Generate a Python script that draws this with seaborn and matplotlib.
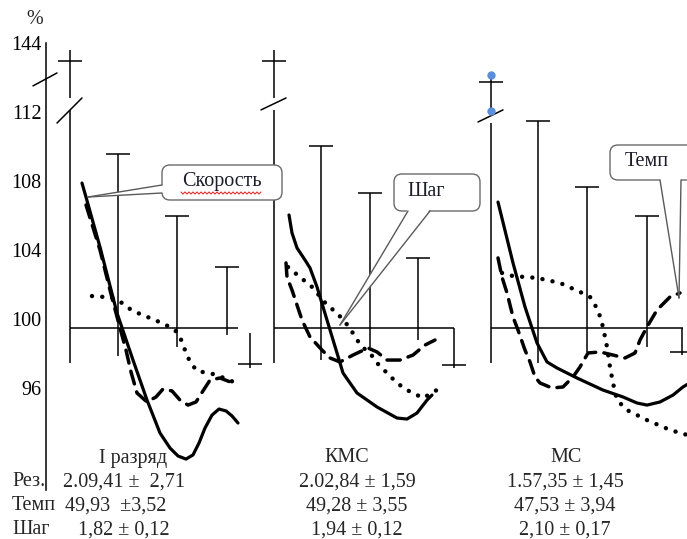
import numpy as np
import pandas as pd
import seaborn as sns
import matplotlib.pyplot as plt
from matplotlib.patches import FancyBboxPatch, Polygon
from matplotlib.transforms import Affine2D
from matplotlib.ticker import NullLocator

# ---------------- data ----------------
levels = ["I разряд", "КМС", "МС"]
series_names = ["Скорость", "Темп", "Шаг"]

# speed (solid), distance along each panel vs %
speed_x = [[12, 16, 30, 47, 63, 77, 90, 100, 108, 116, 123, 129, 135, 142, 149, 156, 162, 168],
           [15, 18, 23, 31, 36, 43, 53, 63, 69, 83, 103, 123, 133, 143, 153, 158],
           [7, 22, 34, 46, 56, 66, 86, 112, 132, 146, 156, 169, 182, 192, 196]]
speed_y = [[107.88, 107.07, 104.17, 100.35, 97.62, 95.30, 93.39, 92.52, 92.06, 91.88, 92.12,
            92.81, 93.68, 94.43, 94.78, 94.67, 94.38, 93.97],
           [106.03, 104.99, 104.12, 103.42, 102.96, 101.86, 99.94, 98.03, 96.87, 95.71, 94.90,
            94.26, 94.20, 94.55, 95.30, 95.59],
           [106.78, 103.25, 100.70, 98.61, 97.51, 97.16, 96.58, 95.88, 95.48, 95.13, 95.01,
            95.19, 95.59, 96.06, 96.2]]

# tempo (dashed)
tempo_x = [[16, 30, 42, 50, 56, 61, 67, 77, 86, 93, 102, 110, 118, 126, 133, 140, 150, 163],
           [12, 13, 18, 28, 36, 48, 56, 66, 79, 94, 103, 113, 126, 139, 151, 161],
           [7, 11, 16, 22, 27, 34, 39, 44, 49, 61, 72, 82, 89, 97, 109, 122, 134, 144, 149,
            156, 166, 179, 189]]
tempo_y = [[106.61, 104.0, 101.22, 99.48, 98.20, 96.93, 95.71, 95.19, 95.48, 95.94, 95.83,
            95.30, 95.01, 95.19, 95.83, 96.46, 96.58, 96.29],
           [103.25, 102.43, 101.68, 99.94, 98.96, 98.20, 97.74, 97.51, 97.91, 98.32, 98.09,
            97.62, 97.62, 97.91, 98.49, 98.78],
           [103.54, 102.43, 101.51, 100.12, 99.36, 98.20, 97.51, 96.64, 96.29, 96.0, 96.06,
            96.64, 97.22, 98.03, 98.09, 97.91, 97.74, 98.03, 98.78, 99.54, 100.52, 101.28, 101.51]]

# step (dotted)
step_x = [[22, 34, 43, 52, 60, 70, 85, 96, 105, 110, 115, 120, 127, 143, 157, 168],
          [14, 26, 38, 53, 63, 76, 81, 88, 96, 103, 113, 123, 133, 149, 158, 166],
          [11, 22, 46, 69, 89, 99, 107, 112, 116, 119, 122, 126, 136, 156, 179, 196]]
step_y = [[101.33, 101.28, 101.22, 100.93, 100.58, 100.29, 99.94, 99.65, 99.36, 98.96, 98.20,
           97.51, 96.99, 96.81, 96.52, 96.23],
          [103.01, 102.43, 101.86, 100.81, 100.35, 99.48, 98.96, 98.38, 98.03, 97.45, 96.87,
           96.29, 95.88, 95.42, 95.71, 96.0],
          [102.67, 102.49, 102.38, 102.09, 101.57, 101.28, 100.52, 99.54, 98.38, 97.22, 96.29,
           95.30, 94.72, 94.14, 93.57, 93.28]]

# variability bars (upward from the base line)
bar_x = [[0, 48, 107, 157], [0, 47, 96, 144], [0, 47, 96, 156]]
bar_top = [[135.7, 109.57, 105.97, 103.01], [135.7, 110.03, 107.30, 103.54], [125.9, 111.48, 107.65, 105.97]]
bar_low = [[97.45, 97.86, 98.38, 99.07], [97.45, 97.62, 98.38, 98.78], [97.45, 97.45, 98.09, 98.38]]
# first (broken) bar: line top, upper piece end, lower piece start
tall_top = [140.7, 140.7, 129.1]
tall_gap = [(118.5, 113.0), (118.5, 113.0), (112.46, 111.36)]
slash_v = [(111.36, 118.5), (112.97, 118.5), (111.42, 112.97)]
# downward bar at the end of each panel
down_x = [180, 180, 191]
down_top = [99.19, 99.48, 99.48]
down_low = [97.16, 97.16, 97.91]
down_cap = [97.39, 97.33, 98.09]
base_len = [168, 180, 192]
base_level = 99.48

y_ticks = [96, 100, 104, 108, 112, 144]

result_txt = ["2.09,41 ±  2,71", "2.02,84 ± 1,59", "1.57,35 ± 1,45"]
tempo_txt = ["49,93  ±3,52", "49,28 ± 3,55", "47,53 ± 3,94"]
step_txt = ["1,82 ± 0,12", "1,94 ± 0,12", "2,10 ± 0,17"]

# ---------------- layout ----------------
W, H = 687, 539
panel_x0 = [70, 274, 491]
CAP = 12

sns.set_style("white")
plt.rcParams['font.family'] = ['Liberation Serif', 'DejaVu Serif']
FS = 14.5

fig = plt.figure(figsize=(W / 100, H / 100), dpi=100)
ax = fig.add_axes([0, 0, 1, 1])
ax.set_facecolor("white")


def fwd(v):
    v = np.asarray(v, float)
    return np.where(v <= 112, v, 112 + (v - 112) / 8)


def inv(t):
    t = np.asarray(t, float)
    return np.where(t <= 112, t, 112 + (t - 112) * 8)


ax.set_yscale('function', functions=(fwd, inv))
ax.set_xlim(0, W)
ax.set_ylim(87.2464, 163.94)

# curves through seaborn, one call per indicator
styles = {
    "Скорость": dict(linestyle="-", lw=2.3),
    "Темп": dict(linestyle=(0, (3.8, 2.4)), lw=2.5),
    "Шаг": dict(linestyle=(0, (0.01, 2.3)), lw=3.2),
}
for name, xs, ys in zip(series_names, [speed_x, tempo_x, step_x], [speed_y, tempo_y, step_y]):
    rows = []
    for p in range(3):
        for x, y in zip(xs[p], ys[p]):
            rows.append({"panel": levels[p], "x": panel_x0[p] + x, "value": y})
    df = pd.DataFrame(rows)
    sns.lineplot(data=df, x="x", y="value", units="panel", estimator=None, sort=False,
                 color="black", legend=False, ax=ax, dash_capstyle="round",
                 solid_capstyle="round", solid_joinstyle="round", zorder=3, **styles[name])

lw = 1.1
for p in range(3):
    x0 = panel_x0[p]
    ax.hlines(base_level, x0, x0 + base_len[p], color="black", lw=lw)
    for i, (bx, top, low) in enumerate(zip(bar_x[p], bar_top[p], bar_low[p])):
        xx = x0 + bx
        if i == 0:
            ax.vlines(xx, tall_gap[p][0], tall_top[p], color="black", lw=lw)
            ax.vlines(xx, low, tall_gap[p][1], color="black", lw=lw)
            ax.plot([xx - 13, xx + 12], slash_v[p], color="black", lw=lw)
        else:
            ax.vlines(xx, low, top, color="black", lw=lw)
        ax.hlines(top, xx - CAP, xx + CAP, color="black", lw=lw)
    dx = x0 + down_x[p]
    ax.vlines(dx, down_low[p], down_top[p], color="black", lw=lw)
    ax.hlines(down_cap[p], dx - CAP, dx + CAP, color="black", lw=lw)

# selection handles on the third panel's first bar
ax.scatter([panel_x0[2], panel_x0[2]], [tall_top[2], tall_gap[2][0]], s=36,
           color="#5b8fd9", zorder=4, linewidths=0)

# main axis
for s in ["top", "right", "bottom"]:
    ax.spines[s].set_visible(False)
ax.spines["left"].set_position(("data", 46))
ax.spines["left"].set_bounds(90.09, 144)
ax.spines["left"].set_color("black")
ax.spines["left"].set_linewidth(lw)
ax.plot([33, 57], [124.1, 130.1], color="black", lw=lw)
ax.set_yticks(y_ticks)
ax.set_yticklabels([str(t) for t in y_ticks])
ax.yaxis.set_minor_locator(NullLocator())
ax.tick_params(axis="y", length=0, pad=3, labelsize=FS, labelcolor="black")
ax.set_xticks([])
ax.set_xlabel("")
ax.set_ylabel("")

# callouts (pixel space)
pix = Affine2D().scale(1, -1).translate(0, H)
callouts = [
    ("Скорость", (162, 165, 120, 35), [(162, 185), (162, 193)], (88, 197), 222),
    ("Шаг", (394, 174, 86, 37), [(408, 211), (430, 211)], (340, 325), 426),
    ("Темп", (610, 145, 95, 35), [(660, 180), (681, 180)], (679, 298), 647),
]
for label, (bx, by, bw, bh), base, tip, tx in callouts:
    box = FancyBboxPatch((bx, by), bw, bh, boxstyle="round,pad=0,rounding_size=8",
                         fc="white", ec="#6a6a6a", lw=1.0, transform=pix, zorder=5)
    ax.add_patch(box)
    if base[0][0] == base[1][0]:
        inner = [(base[0][0] + 2, base[0][1]), (base[1][0] + 2, base[1][1])]
    else:
        inner = [(base[0][0], base[0][1] - 2), (base[1][0], base[1][1] - 2)]
    ax.add_patch(Polygon(inner + [tip], closed=True, fc="white", ec="none",
                         transform=pix, zorder=6))
    for b in base:
        ax.plot([b[0], tip[0]], [b[1], tip[1]], color="#5a5a5a", lw=1.0,
                transform=pix, zorder=7)
    ax.text(tx, by + bh / 2 - 1, label, ha="center", va="center", fontsize=FS,
            color="#1c1c2a", transform=pix, zorder=8)

# spell-check wave under "Скорость"
wx = np.arange(181, 263, 2)
wy = 193 + np.where(np.arange(len(wx)) % 2 == 0, -1.0, 1.0)
ax.plot(wx, wy, color="#e0302a", lw=0.8, transform=pix, zorder=8)


# texts under the panels
def ft(x, y, s, ha="center"):
    fig.text(x / W, 1 - y / H, s, ha=ha, va="center", fontsize=FS)


ft(35, 19, "%")
for c, lv in zip([133, 347, 566], levels):
    ft(c, 458, lv)
for y, lab in zip([482, 506, 530], ["Рез.", "Темп", "Шаг"]):
    ft(12, y, lab, ha="left")
for y, row, x1 in zip([482, 506, 530], [result_txt, tempo_txt, step_txt], [63, 65, 78]):
    ft(x1, y, row[0], ha="left")
    ft(357, y, row[1])
    ft(565, y, row[2])

fig.savefig("out.png", dpi=100)
